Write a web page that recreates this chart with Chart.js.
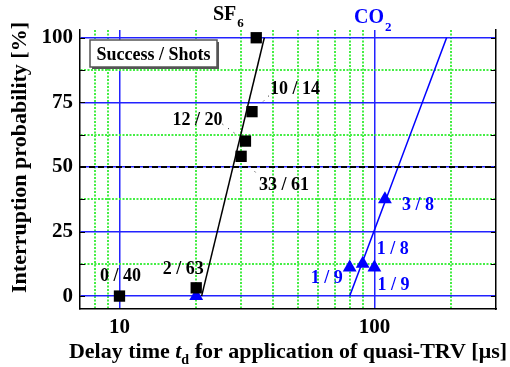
<!DOCTYPE html>
<html>
<head>
<meta charset="utf-8">
<script src="https://cdn.jsdelivr.net/npm/chart.js@4.4.0/dist/chart.umd.min.js"></script>
<style>
html, body { margin: 0; padding: 0; background: #fff; }
</style>
</head>
<body>
<canvas id="chart" width="510" height="367"></canvas>
<script>
var sf6Delay = [10, 20, 30, 31.2, 33.1, 34.4];
var sf6Prob = [0, 3.2, 54.1, 60, 71.4, 100];
var sf6Labels = ['0 / 40', '2 / 63', '33 / 61', '12 / 20', '10 / 14', ''];

var co2Delay = [20, 80, 90, 100, 110];
var co2Prob = [0, 11.1, 12.5, 11.1, 37.5];
var co2Labels = ['', '1 / 9', '1 / 8', '1 / 9', '3 / 8'];

// fitted lines
var sf6FitDelay = [21, 37];
var sf6FitProb = [0, 100];
var co2FitDelay = [80, 192];
var co2FitProb = [0, 100];

// 50 % reference
var refDelay = [7, 300];
var refProb = [50, 50];

var xTicks = [8, 9, 10, 20, 30, 40, 50, 60, 70, 80, 90, 100, 200];
var yTicks = [0, 12.5, 25, 37.5, 50, 62.5, 75, 87.5, 100];

var SERIF = '"Liberation Serif", "Times New Roman", serif';
var BLUE = '#0000ff';
var GREEN = '#44ee44';

var toPoints = function (xs, ys) {
    return xs.map(function (x, i) { return { x: x, y: ys[i] }; });
};
var isMajorX = function (v) { return v === 10 || v === 100; };
var isMajorY = function (v) { return v % 25 === 0; };

var drawRuns = function (ctx, runs, x, y) {
    var total = 0;
    runs.forEach(function (r) { ctx.font = r.font; r.w = ctx.measureText(r.text).width; total += r.w; });
    var cx = x - total / 2;
    ctx.textAlign = 'left';
    runs.forEach(function (r) {
        ctx.font = r.font;
        ctx.fillText(r.text, cx, y + (r.dy || 0));
        cx += r.w;
    });
};

var annotate = {
    id: 'annotate',
    afterDraw: function (chart) {
        var ctx = chart.ctx;
        var xs = chart.scales.x, ys = chart.scales.y;
        var area = chart.chartArea;
        ctx.save();

        // inward ticks on left and right frame
        ctx.strokeStyle = '#000';
        ctx.lineWidth = 1;
        yTicks.forEach(function (v) {
            var py = Math.round(ys.getPixelForValue(v)) + 0.5;
            ctx.beginPath();
            ctx.moveTo(area.left, py); ctx.lineTo(area.left + 5, py);
            ctx.moveTo(area.right - 5, py); ctx.lineTo(area.right, py);
            ctx.stroke();
        });

        // point labels
        var sf6Off = [[1, -15.5], [-13, -14], [43, 34], [-48, -16.5], [43, -17.5], [0, 0]];
        var co2Off = [[0, 0], [-23, 16], [30, -9.5], [19, 22.5], [33, 11]];
        ctx.textBaseline = 'alphabetic';
        ctx.textAlign = 'center';
        ctx.font = 'bold 18px ' + SERIF;
        ctx.fillStyle = '#000';
        sf6Labels.forEach(function (t, i) {
            if (!t) return;
            ctx.fillText(t, xs.getPixelForValue(sf6Delay[i]) + sf6Off[i][0], ys.getPixelForValue(sf6Prob[i]) + sf6Off[i][1]);
        });
        ctx.fillStyle = BLUE;
        co2Labels.forEach(function (t, i) {
            if (!t) return;
            ctx.fillText(t, xs.getPixelForValue(co2Delay[i]) + co2Off[i][0], ys.getPixelForValue(co2Prob[i]) + co2Off[i][1]);
        });

        // small dotted leaders
        var leaders = [[3, -23, -17, -7, -5], [4, 17, -16, 8, -7], [2, 9, 10, 18, 20]];
        ctx.strokeStyle = '#000';
        ctx.setLineDash([1, 6]);
        leaders.forEach(function (l) {
            var px = xs.getPixelForValue(sf6Delay[l[0]]), py = ys.getPixelForValue(sf6Prob[l[0]]);
            ctx.beginPath();
            ctx.moveTo(px + l[1], py + l[2]);
            ctx.lineTo(px + l[3], py + l[4]);
            ctx.stroke();
        });
        ctx.setLineDash([]);

        // legend box
        ctx.fillStyle = '#555';
        ctx.fillRect(92, 42, 127, 27);
        ctx.fillStyle = '#fff';
        ctx.fillRect(90, 40, 127, 27);
        ctx.strokeStyle = '#555';
        ctx.lineWidth = 1.5;
        ctx.strokeRect(90, 40, 127, 27);
        ctx.fillStyle = '#000';
        ctx.textAlign = 'center';
        ctx.font = 'bold 18px ' + SERIF;
        ctx.fillText('Success / Shots', 153.5, 60);

        // gas headers
        ctx.textAlign = 'left';
        ctx.font = 'bold 20px ' + SERIF;
        ctx.fillText('SF', 213, 20);
        var w = ctx.measureText('SF').width;
        ctx.font = 'bold 13px ' + SERIF;
        ctx.fillText('6', 213 + w + 1, 27);
        ctx.fillStyle = BLUE;
        ctx.font = 'bold 20px ' + SERIF;
        ctx.fillText('CO', 354, 22.5);
        w = ctx.measureText('CO').width;
        ctx.font = 'bold 13px ' + SERIF;
        ctx.fillText('2', 354 + w + 1, 31);

        // axis titles
        ctx.fillStyle = '#000';
        var big = 'bold 22px ' + SERIF;
        drawRuns(ctx, [
            { text: 'Delay time ', font: big },
            { text: 't', font: 'italic bold 22px ' + SERIF },
            { text: 'd', font: 'bold 14px ' + SERIF, dy: 6 },
            { text: ' for application of quasi-TRV [\u03bcs]', font: big }
        ], (area.left + area.right) / 2, 358);

        ctx.translate(26, 157.5);
        ctx.rotate(-Math.PI / 2);
        ctx.textAlign = 'center';
        ctx.font = big;
        ctx.fillText('Interruption probability [%]', 0, 0);
        ctx.restore();
    }
};

var ctx = document.getElementById('chart').getContext('2d');
var chart = new Chart(ctx, {
    type: 'scatter',
    data: {
        datasets: [{
            data: toPoints(refDelay, refProb),
            showLine: true,
            borderColor: '#000',
            borderWidth: 2,
            borderDash: [6, 3],
            pointRadius: 0
        }, {
            data: toPoints(sf6FitDelay, sf6FitProb),
            showLine: true,
            borderColor: '#000',
            borderWidth: 1.5,
            pointRadius: 0
        }, {
            data: toPoints(co2FitDelay, co2FitProb),
            showLine: true,
            borderColor: BLUE,
            borderWidth: 1.5,
            pointRadius: 0
        }, {
            data: toPoints(sf6Delay, sf6Prob),
            pointStyle: 'rect',
            pointRadius: 8,
            backgroundColor: '#000',
            borderColor: '#000',
            borderWidth: 0
        }, {
            data: toPoints(co2Delay, co2Prob),
            pointStyle: 'triangle',
            pointRadius: 8,
            backgroundColor: BLUE,
            borderColor: BLUE,
            borderWidth: 0
        }]
    },
    options: {
        responsive: false,
        animation: false,
        devicePixelRatio: 1,
        layout: { padding: { top: 30, left: 0, right: 0, bottom: 0 } },
        plugins: {
            legend: { display: false },
            tooltip: { enabled: false }
        },
        scales: {
            x: {
                type: 'logarithmic',
                min: 7,
                max: 300,
                afterBuildTicks: function (scale) {
                    scale.ticks = xTicks.map(function (v) { return { value: v }; });
                },
                afterFit: function (scale) { scale.height = 58; },
                grid: {
                    drawTicks: false,
                    lineWidth: function (c) { return c.tick && isMajorX(c.tick.value) ? 1.5 : 2; },
                    color: function (c) { return c.tick && isMajorX(c.tick.value) ? '#2222ff' : GREEN; }
                },
                border: {
                    color: '#000',
                    width: 1.5,
                    dash: function (c) { return c.tick && !isMajorX(c.tick.value) ? [2, 1.5] : []; }
                },
                ticks: {
                    autoSkip: false,
                    maxRotation: 0,
                    padding: 6,
                    color: '#000',
                    font: { family: SERIF, size: 21, weight: 'bold' },
                    callback: function (v) { return isMajorX(v) ? String(v) : ''; }
                }
            },
            y: {
                min: -5,
                max: 103,
                afterBuildTicks: function (scale) {
                    scale.ticks = yTicks.map(function (v) { return { value: v }; });
                },
                afterFit: function (scale) { scale.width = 80; },
                grid: {
                    drawTicks: false,
                    lineWidth: function (c) { return c.tick && isMajorY(c.tick.value) ? 1.5 : 2; },
                    color: function (c) { return c.tick && isMajorY(c.tick.value) ? '#2222ff' : GREEN; }
                },
                border: {
                    color: '#000',
                    width: 1.5,
                    dash: function (c) { return c.tick && !isMajorY(c.tick.value) ? [2, 1.5] : []; }
                },
                ticks: {
                    padding: 7,
                    color: '#000',
                    font: { family: SERIF, size: 21, weight: 'bold' },
                    callback: function (v) { return isMajorY(v) ? String(v) : ''; }
                }
            },
            y2: {
                position: 'right',
                min: -5,
                max: 103,
                afterFit: function (scale) { scale.width = 14; },
                grid: { drawOnChartArea: false, drawTicks: false },
                border: { color: '#000', width: 1.5 },
                ticks: { display: false }
            }
        }
    },
    plugins: [annotate]
});
</script>
</body>
</html>
